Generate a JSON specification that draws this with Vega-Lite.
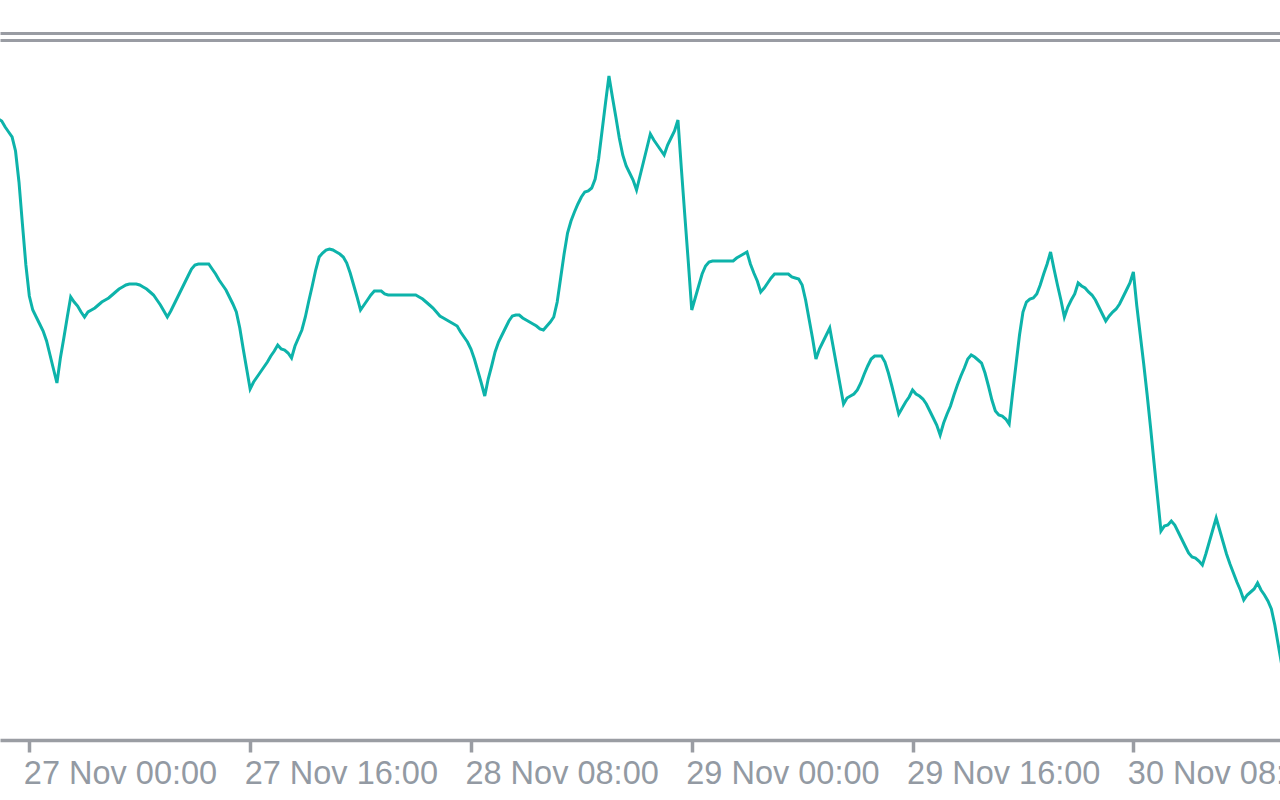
{
"$schema": "https://vega.github.io/schema/vega-lite/v6.json",
"width": 1280,
"height": 708,
"autosize": {"type": "none"},
"padding": {"left": 0, "top": 32, "right": 0, "bottom": 60},
"background": "#ffffff",
"config": {"view": {"stroke": null}},
"data": {"values": [
{"t":"2023-11-26T21:45Z","p":1.09621},{"t":"2023-11-26T22:00Z","p":1.09619},{"t":"2023-11-26T22:15Z","p":1.09613},{"t":"2023-11-26T22:30Z","p":1.09608},{"t":"2023-11-26T22:45Z","p":1.09603},{"t":"2023-11-26T23:00Z","p":1.09589},{"t":"2023-11-26T23:15Z","p":1.09558},{"t":"2023-11-26T23:30Z","p":1.09516},{"t":"2023-11-26T23:45Z","p":1.09475},
{"t":"2023-11-27T00:00Z","p":1.09444},{"t":"2023-11-27T00:15Z","p":1.09430},{"t":"2023-11-27T00:30Z","p":1.09423},{"t":"2023-11-27T00:45Z","p":1.09416},
{"t":"2023-11-27T01:00Z","p":1.09409},{"t":"2023-11-27T01:15Z","p":1.09399},{"t":"2023-11-27T01:30Z","p":1.09385},{"t":"2023-11-27T01:45Z","p":1.09371},
{"t":"2023-11-27T02:00Z","p":1.09357},{"t":"2023-11-27T02:15Z","p":1.09382},{"t":"2023-11-27T02:30Z","p":1.09402},{"t":"2023-11-27T02:45Z","p":1.09423},
{"t":"2023-11-27T03:00Z","p":1.09443},{"t":"2023-11-27T03:15Z","p":1.09438},{"t":"2023-11-27T03:30Z","p":1.09434},{"t":"2023-11-27T03:45Z","p":1.09428},
{"t":"2023-11-27T04:00Z","p":1.09423},{"t":"2023-11-27T04:15Z","p":1.09428},{"t":"2023-11-27T04:30Z","p":1.09430},{"t":"2023-11-27T04:45Z","p":1.09432},
{"t":"2023-11-27T05:00Z","p":1.09435},{"t":"2023-11-27T05:15Z","p":1.09438},{"t":"2023-11-27T05:30Z","p":1.09440},{"t":"2023-11-27T05:45Z","p":1.09442},
{"t":"2023-11-27T06:00Z","p":1.09445},{"t":"2023-11-27T06:15Z","p":1.09448},{"t":"2023-11-27T06:30Z","p":1.09451},{"t":"2023-11-27T06:45Z","p":1.09453},
{"t":"2023-11-27T07:00Z","p":1.09455},{"t":"2023-11-27T07:15Z","p":1.09456},{"t":"2023-11-27T07:30Z","p":1.09456},{"t":"2023-11-27T07:45Z","p":1.09456},
{"t":"2023-11-27T08:00Z","p":1.09455},{"t":"2023-11-27T08:15Z","p":1.09453},{"t":"2023-11-27T08:30Z","p":1.09451},{"t":"2023-11-27T08:45Z","p":1.09448},
{"t":"2023-11-27T09:00Z","p":1.09445},{"t":"2023-11-27T09:15Z","p":1.09440},{"t":"2023-11-27T09:30Z","p":1.09435},{"t":"2023-11-27T09:45Z","p":1.09429},
{"t":"2023-11-27T10:00Z","p":1.09423},{"t":"2023-11-27T10:15Z","p":1.09429},{"t":"2023-11-27T10:30Z","p":1.09436},{"t":"2023-11-27T10:45Z","p":1.09443},
{"t":"2023-11-27T11:00Z","p":1.09450},{"t":"2023-11-27T11:15Z","p":1.09457},{"t":"2023-11-27T11:30Z","p":1.09464},{"t":"2023-11-27T11:45Z","p":1.09471},
{"t":"2023-11-27T12:00Z","p":1.09475},{"t":"2023-11-27T12:15Z","p":1.09476},{"t":"2023-11-27T12:30Z","p":1.09476},{"t":"2023-11-27T12:45Z","p":1.09476},
{"t":"2023-11-27T13:00Z","p":1.09476},{"t":"2023-11-27T13:15Z","p":1.09471},{"t":"2023-11-27T13:30Z","p":1.09466},{"t":"2023-11-27T13:45Z","p":1.09460},
{"t":"2023-11-27T14:00Z","p":1.09455},{"t":"2023-11-27T14:15Z","p":1.09450},{"t":"2023-11-27T14:30Z","p":1.09443},{"t":"2023-11-27T14:45Z","p":1.09436},
{"t":"2023-11-27T15:00Z","p":1.09428},{"t":"2023-11-27T15:15Z","p":1.09412},{"t":"2023-11-27T15:30Z","p":1.09391},{"t":"2023-11-27T15:45Z","p":1.09371},
{"t":"2023-11-27T16:00Z","p":1.09351},{"t":"2023-11-27T16:15Z","p":1.09358},{"t":"2023-11-27T16:30Z","p":1.09363},{"t":"2023-11-27T16:45Z","p":1.09368},
{"t":"2023-11-27T17:00Z","p":1.09373},{"t":"2023-11-27T17:15Z","p":1.09378},{"t":"2023-11-27T17:30Z","p":1.09384},{"t":"2023-11-27T17:45Z","p":1.09389},
{"t":"2023-11-27T18:00Z","p":1.09395},{"t":"2023-11-27T18:15Z","p":1.09391},{"t":"2023-11-27T18:30Z","p":1.09390},{"t":"2023-11-27T18:45Z","p":1.09387},
{"t":"2023-11-27T19:00Z","p":1.09382},{"t":"2023-11-27T19:15Z","p":1.09394},{"t":"2023-11-27T19:30Z","p":1.09402},{"t":"2023-11-27T19:45Z","p":1.09410},
{"t":"2023-11-27T20:00Z","p":1.09423},{"t":"2023-11-27T20:15Z","p":1.09439},{"t":"2023-11-27T20:30Z","p":1.09454},{"t":"2023-11-27T20:45Z","p":1.09470},
{"t":"2023-11-27T21:00Z","p":1.09483},{"t":"2023-11-27T21:15Z","p":1.09487},{"t":"2023-11-27T21:30Z","p":1.09490},{"t":"2023-11-27T21:45Z","p":1.09491},
{"t":"2023-11-27T22:00Z","p":1.09490},{"t":"2023-11-27T22:15Z","p":1.09488},{"t":"2023-11-27T22:30Z","p":1.09486},{"t":"2023-11-27T22:45Z","p":1.09483},
{"t":"2023-11-27T23:00Z","p":1.09477},{"t":"2023-11-27T23:15Z","p":1.09467},{"t":"2023-11-27T23:30Z","p":1.09455},{"t":"2023-11-27T23:45Z","p":1.09443},
{"t":"2023-11-28T00:00Z","p":1.09430},{"t":"2023-11-28T00:15Z","p":1.09435},{"t":"2023-11-28T00:30Z","p":1.09440},{"t":"2023-11-28T00:45Z","p":1.09445},
{"t":"2023-11-28T01:00Z","p":1.09449},{"t":"2023-11-28T01:15Z","p":1.09449},{"t":"2023-11-28T01:30Z","p":1.09449},{"t":"2023-11-28T01:45Z","p":1.09446},
{"t":"2023-11-28T02:00Z","p":1.09445},{"t":"2023-11-28T02:15Z","p":1.09445},{"t":"2023-11-28T02:30Z","p":1.09445},{"t":"2023-11-28T02:45Z","p":1.09445},
{"t":"2023-11-28T03:00Z","p":1.09445},{"t":"2023-11-28T03:15Z","p":1.09445},{"t":"2023-11-28T03:30Z","p":1.09445},{"t":"2023-11-28T03:45Z","p":1.09445},
{"t":"2023-11-28T04:00Z","p":1.09445},{"t":"2023-11-28T04:15Z","p":1.09443},{"t":"2023-11-28T04:30Z","p":1.09441},{"t":"2023-11-28T04:45Z","p":1.09438},
{"t":"2023-11-28T05:00Z","p":1.09435},{"t":"2023-11-28T05:15Z","p":1.09432},{"t":"2023-11-28T05:30Z","p":1.09428},{"t":"2023-11-28T05:45Z","p":1.09424},
{"t":"2023-11-28T06:00Z","p":1.09422},{"t":"2023-11-28T06:15Z","p":1.09420},{"t":"2023-11-28T06:30Z","p":1.09418},{"t":"2023-11-28T06:45Z","p":1.09416},
{"t":"2023-11-28T07:00Z","p":1.09414},{"t":"2023-11-28T07:15Z","p":1.09408},{"t":"2023-11-28T07:30Z","p":1.09403},{"t":"2023-11-28T07:45Z","p":1.09398},
{"t":"2023-11-28T08:00Z","p":1.09391},{"t":"2023-11-28T08:15Z","p":1.09381},{"t":"2023-11-28T08:30Z","p":1.09369},{"t":"2023-11-28T08:45Z","p":1.09357},
{"t":"2023-11-28T09:00Z","p":1.09344},{"t":"2023-11-28T09:15Z","p":1.09361},{"t":"2023-11-28T09:30Z","p":1.09374},{"t":"2023-11-28T09:45Z","p":1.09388},
{"t":"2023-11-28T10:00Z","p":1.09398},{"t":"2023-11-28T10:15Z","p":1.09405},{"t":"2023-11-28T10:30Z","p":1.09412},{"t":"2023-11-28T10:45Z","p":1.09419},
{"t":"2023-11-28T11:00Z","p":1.09424},{"t":"2023-11-28T11:15Z","p":1.09425},{"t":"2023-11-28T11:30Z","p":1.09425},{"t":"2023-11-28T11:45Z","p":1.09422},
{"t":"2023-11-28T12:00Z","p":1.09420},{"t":"2023-11-28T12:15Z","p":1.09418},{"t":"2023-11-28T12:30Z","p":1.09416},{"t":"2023-11-28T12:45Z","p":1.09414},
{"t":"2023-11-28T13:00Z","p":1.09411},{"t":"2023-11-28T13:15Z","p":1.09410},{"t":"2023-11-28T13:30Z","p":1.09414},{"t":"2023-11-28T13:45Z","p":1.09418},
{"t":"2023-11-28T14:00Z","p":1.09423},{"t":"2023-11-28T14:15Z","p":1.09438},{"t":"2023-11-28T14:30Z","p":1.09462},{"t":"2023-11-28T14:45Z","p":1.09486},
{"t":"2023-11-28T15:00Z","p":1.09507},{"t":"2023-11-28T15:15Z","p":1.09519},{"t":"2023-11-28T15:30Z","p":1.09528},{"t":"2023-11-28T15:45Z","p":1.09536},
{"t":"2023-11-28T16:00Z","p":1.09543},{"t":"2023-11-28T16:15Z","p":1.09548},{"t":"2023-11-28T16:30Z","p":1.09549},{"t":"2023-11-28T16:45Z","p":1.09552},
{"t":"2023-11-28T17:00Z","p":1.09561},{"t":"2023-11-28T17:15Z","p":1.09581},{"t":"2023-11-28T17:30Z","p":1.09609},{"t":"2023-11-28T17:45Z","p":1.09637},
{"t":"2023-11-28T18:00Z","p":1.09664},{"t":"2023-11-28T18:15Z","p":1.09643},{"t":"2023-11-28T18:30Z","p":1.09623},{"t":"2023-11-28T18:45Z","p":1.09602},
{"t":"2023-11-28T19:00Z","p":1.09585},{"t":"2023-11-28T19:15Z","p":1.09574},{"t":"2023-11-28T19:30Z","p":1.09567},{"t":"2023-11-28T19:45Z","p":1.09560},
{"t":"2023-11-28T20:00Z","p":1.09550},{"t":"2023-11-28T20:15Z","p":1.09564},{"t":"2023-11-28T20:30Z","p":1.09578},{"t":"2023-11-28T20:45Z","p":1.09592},
{"t":"2023-11-28T21:00Z","p":1.09606},{"t":"2023-11-28T21:15Z","p":1.09600},{"t":"2023-11-28T21:30Z","p":1.09595},{"t":"2023-11-28T21:45Z","p":1.09590},
{"t":"2023-11-28T22:00Z","p":1.09585},{"t":"2023-11-28T22:15Z","p":1.09595},{"t":"2023-11-28T22:30Z","p":1.09602},{"t":"2023-11-28T22:45Z","p":1.09609},
{"t":"2023-11-28T23:00Z","p":1.09620},{"t":"2023-11-28T23:15Z","p":1.09571},{"t":"2023-11-28T23:30Z","p":1.09524},{"t":"2023-11-28T23:45Z","p":1.09478},
{"t":"2023-11-29T00:00Z","p":1.09430},{"t":"2023-11-29T00:15Z","p":1.09442},{"t":"2023-11-29T00:30Z","p":1.09454},{"t":"2023-11-29T00:45Z","p":1.09466},
{"t":"2023-11-29T01:00Z","p":1.09474},{"t":"2023-11-29T01:15Z","p":1.09478},{"t":"2023-11-29T01:30Z","p":1.09479},{"t":"2023-11-29T01:45Z","p":1.09479},
{"t":"2023-11-29T02:00Z","p":1.09479},{"t":"2023-11-29T02:15Z","p":1.09479},{"t":"2023-11-29T02:30Z","p":1.09479},{"t":"2023-11-29T02:45Z","p":1.09479},
{"t":"2023-11-29T03:00Z","p":1.09479},{"t":"2023-11-29T03:15Z","p":1.09482},{"t":"2023-11-29T03:30Z","p":1.09484},{"t":"2023-11-29T03:45Z","p":1.09486},
{"t":"2023-11-29T04:00Z","p":1.09488},{"t":"2023-11-29T04:15Z","p":1.09476},{"t":"2023-11-29T04:30Z","p":1.09467},{"t":"2023-11-29T04:45Z","p":1.09459},
{"t":"2023-11-29T05:00Z","p":1.09448},{"t":"2023-11-29T05:15Z","p":1.09452},{"t":"2023-11-29T05:30Z","p":1.09457},{"t":"2023-11-29T05:45Z","p":1.09462},
{"t":"2023-11-29T06:00Z","p":1.09466},{"t":"2023-11-29T06:15Z","p":1.09466},{"t":"2023-11-29T06:30Z","p":1.09466},{"t":"2023-11-29T06:45Z","p":1.09466},
{"t":"2023-11-29T07:00Z","p":1.09466},{"t":"2023-11-29T07:15Z","p":1.09463},{"t":"2023-11-29T07:30Z","p":1.09462},{"t":"2023-11-29T07:45Z","p":1.09461},
{"t":"2023-11-29T08:00Z","p":1.09455},{"t":"2023-11-29T08:15Z","p":1.09440},{"t":"2023-11-29T08:30Z","p":1.09421},{"t":"2023-11-29T08:45Z","p":1.09402},
{"t":"2023-11-29T09:00Z","p":1.09381},{"t":"2023-11-29T09:15Z","p":1.09391},{"t":"2023-11-29T09:30Z","p":1.09398},{"t":"2023-11-29T09:45Z","p":1.09405},
{"t":"2023-11-29T10:00Z","p":1.09412},{"t":"2023-11-29T10:15Z","p":1.09393},{"t":"2023-11-29T10:30Z","p":1.09374},{"t":"2023-11-29T10:45Z","p":1.09355},
{"t":"2023-11-29T11:00Z","p":1.09336},{"t":"2023-11-29T11:15Z","p":1.09342},{"t":"2023-11-29T11:30Z","p":1.09344},{"t":"2023-11-29T11:45Z","p":1.09346},
{"t":"2023-11-29T12:00Z","p":1.09350},{"t":"2023-11-29T12:15Z","p":1.09357},{"t":"2023-11-29T12:30Z","p":1.09366},{"t":"2023-11-29T12:45Z","p":1.09374},
{"t":"2023-11-29T13:00Z","p":1.09381},{"t":"2023-11-29T13:15Z","p":1.09384},{"t":"2023-11-29T13:30Z","p":1.09384},{"t":"2023-11-29T13:45Z","p":1.09384},
{"t":"2023-11-29T14:00Z","p":1.09378},{"t":"2023-11-29T14:15Z","p":1.09367},{"t":"2023-11-29T14:30Z","p":1.09354},{"t":"2023-11-29T14:45Z","p":1.09340},
{"t":"2023-11-29T15:00Z","p":1.09326},{"t":"2023-11-29T15:15Z","p":1.09332},{"t":"2023-11-29T15:30Z","p":1.09338},{"t":"2023-11-29T15:45Z","p":1.09343},
{"t":"2023-11-29T16:00Z","p":1.09350},{"t":"2023-11-29T16:15Z","p":1.09346},{"t":"2023-11-29T16:30Z","p":1.09344},{"t":"2023-11-29T16:45Z","p":1.09341},
{"t":"2023-11-29T17:00Z","p":1.09336},{"t":"2023-11-29T17:15Z","p":1.09329},{"t":"2023-11-29T17:30Z","p":1.09322},{"t":"2023-11-29T17:45Z","p":1.09315},
{"t":"2023-11-29T18:00Z","p":1.09305},{"t":"2023-11-29T18:15Z","p":1.09317},{"t":"2023-11-29T18:30Z","p":1.09326},{"t":"2023-11-29T18:45Z","p":1.09334},
{"t":"2023-11-29T19:00Z","p":1.09345},{"t":"2023-11-29T19:15Z","p":1.09355},{"t":"2023-11-29T19:30Z","p":1.09364},{"t":"2023-11-29T19:45Z","p":1.09372},
{"t":"2023-11-29T20:00Z","p":1.09381},{"t":"2023-11-29T20:15Z","p":1.09385},{"t":"2023-11-29T20:30Z","p":1.09383},{"t":"2023-11-29T20:45Z","p":1.09380},
{"t":"2023-11-29T21:00Z","p":1.09377},{"t":"2023-11-29T21:15Z","p":1.09367},{"t":"2023-11-29T21:30Z","p":1.09354},{"t":"2023-11-29T21:45Z","p":1.09340},
{"t":"2023-11-29T22:00Z","p":1.09329},{"t":"2023-11-29T22:15Z","p":1.09325},{"t":"2023-11-29T22:30Z","p":1.09324},{"t":"2023-11-29T22:45Z","p":1.09321},
{"t":"2023-11-29T23:00Z","p":1.09316},{"t":"2023-11-29T23:15Z","p":1.09347},{"t":"2023-11-29T23:30Z","p":1.09376},{"t":"2023-11-29T23:45Z","p":1.09405},
{"t":"2023-11-30T00:00Z","p":1.09428},{"t":"2023-11-30T00:15Z","p":1.09438},{"t":"2023-11-30T00:30Z","p":1.09441},{"t":"2023-11-30T00:45Z","p":1.09442},
{"t":"2023-11-30T01:00Z","p":1.09446},{"t":"2023-11-30T01:15Z","p":1.09455},{"t":"2023-11-30T01:30Z","p":1.09466},{"t":"2023-11-30T01:45Z","p":1.09476},
{"t":"2023-11-30T02:00Z","p":1.09488},{"t":"2023-11-30T02:15Z","p":1.09471},{"t":"2023-11-30T02:30Z","p":1.09455},{"t":"2023-11-30T02:45Z","p":1.09440},
{"t":"2023-11-30T03:00Z","p":1.09423},{"t":"2023-11-30T03:15Z","p":1.09433},{"t":"2023-11-30T03:30Z","p":1.09440},{"t":"2023-11-30T03:45Z","p":1.09446},
{"t":"2023-11-30T04:00Z","p":1.09457},{"t":"2023-11-30T04:15Z","p":1.09454},{"t":"2023-11-30T04:30Z","p":1.09452},{"t":"2023-11-30T04:45Z","p":1.09448},
{"t":"2023-11-30T05:00Z","p":1.09445},{"t":"2023-11-30T05:15Z","p":1.09440},{"t":"2023-11-30T05:30Z","p":1.09433},{"t":"2023-11-30T05:45Z","p":1.09426},
{"t":"2023-11-30T06:00Z","p":1.09419},{"t":"2023-11-30T06:15Z","p":1.09424},{"t":"2023-11-30T06:30Z","p":1.09428},{"t":"2023-11-30T06:45Z","p":1.09431},
{"t":"2023-11-30T07:00Z","p":1.09436},{"t":"2023-11-30T07:15Z","p":1.09443},{"t":"2023-11-30T07:30Z","p":1.09450},{"t":"2023-11-30T07:45Z","p":1.09457},
{"t":"2023-11-30T08:00Z","p":1.09468},{"t":"2023-11-30T08:15Z","p":1.09434},{"t":"2023-11-30T08:30Z","p":1.09405},{"t":"2023-11-30T08:45Z","p":1.09376},
{"t":"2023-11-30T09:00Z","p":1.09345},{"t":"2023-11-30T09:15Z","p":1.09312},{"t":"2023-11-30T09:30Z","p":1.09277},{"t":"2023-11-30T09:45Z","p":1.09243},
{"t":"2023-11-30T10:00Z","p":1.09209},{"t":"2023-11-30T10:15Z","p":1.09214},{"t":"2023-11-30T10:30Z","p":1.09215},{"t":"2023-11-30T10:45Z","p":1.09219},
{"t":"2023-11-30T11:00Z","p":1.09215},{"t":"2023-11-30T11:15Z","p":1.09208},{"t":"2023-11-30T11:30Z","p":1.09201},{"t":"2023-11-30T11:45Z","p":1.09194},
{"t":"2023-11-30T12:00Z","p":1.09187},{"t":"2023-11-30T12:15Z","p":1.09183},{"t":"2023-11-30T12:30Z","p":1.09182},{"t":"2023-11-30T12:45Z","p":1.09179},
{"t":"2023-11-30T13:00Z","p":1.09175},{"t":"2023-11-30T13:15Z","p":1.09186},{"t":"2023-11-30T13:30Z","p":1.09198},{"t":"2023-11-30T13:45Z","p":1.09210},
{"t":"2023-11-30T14:00Z","p":1.09222},{"t":"2023-11-30T14:15Z","p":1.09210},{"t":"2023-11-30T14:30Z","p":1.09198},{"t":"2023-11-30T14:45Z","p":1.09186},
{"t":"2023-11-30T15:00Z","p":1.09176},{"t":"2023-11-30T15:15Z","p":1.09167},{"t":"2023-11-30T15:30Z","p":1.09158},{"t":"2023-11-30T15:45Z","p":1.09150},
{"t":"2023-11-30T16:00Z","p":1.09140},{"t":"2023-11-30T16:15Z","p":1.09145},{"t":"2023-11-30T16:30Z","p":1.09148},{"t":"2023-11-30T16:45Z","p":1.09151},
{"t":"2023-11-30T17:00Z","p":1.09157},{"t":"2023-11-30T17:15Z","p":1.09150},{"t":"2023-11-30T17:30Z","p":1.09145},{"t":"2023-11-30T17:45Z","p":1.09139},
{"t":"2023-11-30T18:00Z","p":1.09131},{"t":"2023-11-30T18:15Z","p":1.09115},{"t":"2023-11-30T18:30Z","p":1.09095},{"t":"2023-11-30T18:45Z","p":1.09075}
]},
"mark": {"type": "line", "color": "#0db3aa", "strokeWidth": 3, "clip": true},
"encoding": {
  "x": {
    "field": "t", "type": "temporal",
    "scale": {"type": "utc", "domain": [1701035550000, 1701369450000]},
    "axis": {
      "orient": "bottom", "title": null, "grid": false,
      "values": [1701043200000, 1701100800000, 1701158400000, 1701216000000, 1701273600000, 1701331200000],
      "labelExpr": "utcFormat(datum.value, '%d %b %H:%M')",
      "domainColor": "#9a9da3", "domainWidth": 3.5,
      "tickColor": "#9a9da3", "tickWidth": 3.5, "tickSize": 12,
      "labelFont": "Liberation Sans", "labelFontSize": 32.5, "labelColor": "#939aa3",
      "labelAlign": "left", "labelBaseline": "alphabetic", "labelPadding": 31, "labelOffset": -6,
      "labelLimit": 0, "labelFlush": false, "labelOverlap": false, "labelBound": false
    }
  },
  "y": {
    "field": "p", "type": "quantitative",
    "scale": {"domain": [1.09, 1.09708], "zero": false, "nice": false},
    "axis": {
      "orient": "left", "title": null, "labels": false, "ticks": false, "domain": false,
      "grid": true, "values": [1.097075, 1.097005],
      "gridColor": "#999ca3", "gridWidth": 3, "gridOpacity": 1
    }
  }
}
}
